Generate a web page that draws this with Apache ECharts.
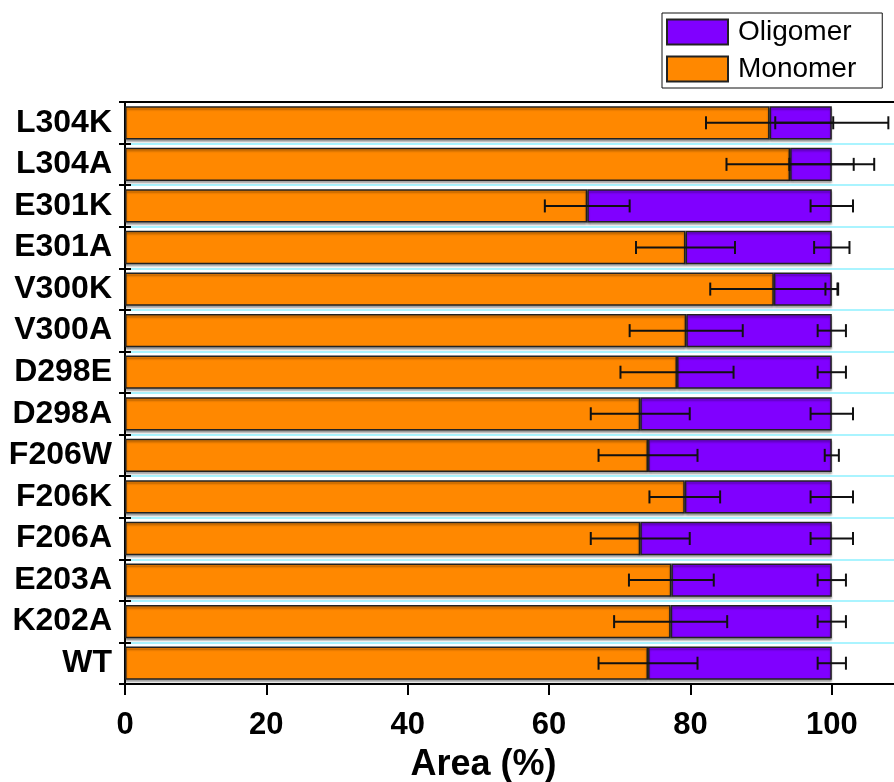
<!DOCTYPE html>
<html>
<head>
<meta charset="utf-8">
<script src="https://cdn.jsdelivr.net/npm/echarts@6/dist/echarts.min.js"></script>
<style>
  html, body { margin: 0; padding: 0; background: #fff; }
  #chart { width: 894px; height: 782px; }
</style>
</head>
<body>
<div id="chart"></div>
<script>
// Variants, listed top to bottom
const categories = ['L304K', 'L304A', 'E301K', 'E301A', 'V300K', 'V300A', 'D298E',
                    'D298A', 'F206W', 'F206K', 'F206A', 'E203A', 'K202A', 'WT'];
// Peak area (%) of each species
const monomer    = [91.2, 94.1, 65.4, 79.3, 91.8, 79.4, 78.1, 72.9, 74.0, 79.2, 72.9, 77.3, 77.2, 74.0];
const oligomer   = [ 8.8,  5.9, 34.6, 20.7,  8.2, 20.6, 21.9, 27.1, 26.0, 20.8, 27.1, 22.7, 22.8, 26.0];
// Standard deviations
const monomerErr  = [9, 9, 6, 7, 9, 8, 8, 7, 7, 5, 7, 6, 8, 7];
const oligomerErr = [8, 6, 3, 2.5, 0.9, 2, 2, 3, 1, 3, 3, 2, 2, 2];
const xTicks = [0, 20, 40, 60, 80, 100];

const ORANGE = '#ff8800';
const PURPLE = '#8000ff';
const FONT = '"Liberation Sans", Arial, sans-serif';

// Error bar endpoints: [categoryIndex, centre, error]
const monoErrData = categories.map((c, i) => [i, monomer[i], monomerErr[i]]);
const oligoErrData = categories.map((c, i) => [i, monomer[i] + oligomer[i], oligomerErr[i]]);

function errorBarItem(params, api) {
  const idx = api.value(0);
  const centre = api.value(1);
  const err = api.value(2);
  const lo = api.coord([centre - err, idx]);
  const hi = api.coord([centre + err, idx]);
  const cap = 6.5;
  const style = { stroke: '#111', lineWidth: 2 };
  return {
    type: 'group',
    children: [
      { type: 'line', shape: { x1: lo[0], y1: lo[1], x2: hi[0], y2: hi[1] }, style },
      { type: 'line', shape: { x1: lo[0], y1: lo[1] - cap, x2: lo[0], y2: lo[1] + cap }, style },
      { type: 'line', shape: { x1: hi[0], y1: hi[1] - cap, x2: hi[0], y2: hi[1] + cap }, style }
    ]
  };
}

const barStyle = (color) => ({
  color: color,
  borderColor: '#222',
  borderWidth: 1.5,
  shadowColor: 'rgba(0,0,0,0.35)',
  shadowBlur: 2,
  shadowOffsetY: 2
});

const chart = echarts.init(document.getElementById('chart'), null, { renderer: 'canvas' });
chart.setOption({
  animation: false,
  backgroundColor: '#fff',
  grid: { left: 125, right: 0, top: 102, bottom: 98, containLabel: false, outerBoundsMode: 'none' },
  legend: {
    data: ['Oligomer', 'Monomer'],
    orient: 'vertical',
    left: 662,
    top: 13,
    itemWidth: 61,
    itemHeight: 25,
    itemGap: 9,
    padding: [5, 26, 5, 4],
    backgroundColor: '#fff',
    borderColor: '#111',
    borderWidth: 1,
    icon: 'rect',
    textStyle: { fontFamily: FONT, fontSize: 28, color: '#000', padding: [0, 0, 0, 5] }
  },
  xAxis: [
    {
      type: 'value',
      min: 0,
      max: 108.8,
      position: 'bottom',
      name: 'Area (%)',
      nameLocation: 'middle',
      nameGap: 63,
      nameTextStyle: { fontFamily: FONT, fontSize: 36, fontWeight: 'bold', color: '#000', padding: [0, 52, 0, 0] },
      axisLine: { show: true, lineStyle: { color: '#000', width: 2 } },
      axisTick: { show: true, customValues: xTicks, length: 11, lineStyle: { color: '#000', width: 2 } },
      axisLabel: { customValues: xTicks, margin: 26, fontFamily: FONT, fontSize: 31, fontWeight: 'bold', color: '#000' },
      splitLine: { show: false }
    },
    {
      type: 'value',
      min: 0,
      max: 108.8,
      position: 'top',
      axisLine: { show: true, lineStyle: { color: '#000', width: 2 } },
      axisTick: { show: false },
      axisLabel: { show: false },
      splitLine: { show: false }
    }
  ],
  yAxis: [
    {
      type: 'category',
      data: categories,
      inverse: true,
      axisLine: { show: true, lineStyle: { color: '#000', width: 2 } },
      axisTick: { show: true, interval: 0, length: 6, lineStyle: { color: '#000', width: 2 } },
      axisLabel: { interval: 0, margin: 13, fontFamily: FONT, fontSize: 32, fontWeight: 'bold', color: '#000' },
      splitLine: { show: true, interval: 0, lineStyle: { color: '#aaf4ff', width: 2 } }
    },
    {
      type: 'category',
      data: categories,
      inverse: true,
      position: 'left',
      axisLine: { show: false },
      axisTick: { show: true, interval: 0, inside: true, length: 6, lineStyle: { color: '#000', width: 2 } },
      axisLabel: { show: false },
      splitLine: { show: false }
    }
  ],
  series: [
    {
      name: 'Monomer',
      type: 'bar',
      stack: 'area',
      data: monomer,
      barCategoryGap: '20%',
      itemStyle: barStyle(ORANGE),
      z: 2
    },
    {
      name: 'Oligomer',
      type: 'bar',
      stack: 'area',
      data: oligomer,
      itemStyle: barStyle(PURPLE),
      z: 2
    },
    {
      name: 'monomerError',
      type: 'custom',
      renderItem: errorBarItem,
      data: monoErrData,
      encode: { x: [1], y: 0 },
      z: 5
    },
    {
      name: 'oligomerError',
      type: 'custom',
      renderItem: errorBarItem,
      data: oligoErrData,
      encode: { x: [1], y: 0 },
      z: 5
    }
  ]
});
</script>
</body>
</html>
